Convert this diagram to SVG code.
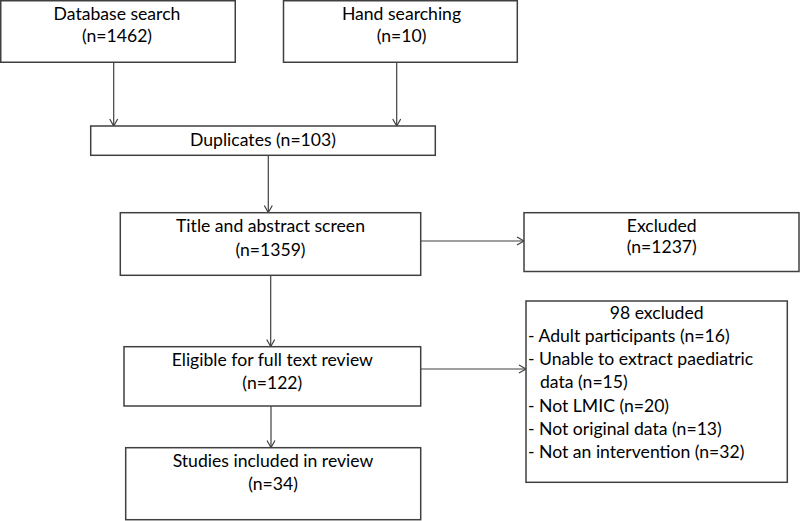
<svg xmlns="http://www.w3.org/2000/svg" width="800" height="521" viewBox="0 0 800 521">
<defs>
<style>
.box{fill:#fff;stroke:#404040;stroke-width:1.5}
.t{font-family:Lato,"Open Sans","Liberation Sans",sans-serif;font-size:17.6px;fill:#000}
.c{text-anchor:middle}
.ln{stroke:#404040;stroke-width:1.2;fill:none}
</style>
<marker id="ah" markerWidth="10" markerHeight="10" refX="8" refY="5" orient="auto" markerUnits="userSpaceOnUse">
<path d="M1,1 L8,5 L1,9" fill="none" stroke="#404040" stroke-width="1.2"/>
</marker>
</defs>
<rect width="800" height="521" fill="#fff"/>
<g id="connectors">
<line class="ln" x1="113.7" y1="62.5" x2="113.7" y2="126" marker-end="url(#ah)"/>
<line class="ln" x1="396.7" y1="62.5" x2="396.7" y2="126" marker-end="url(#ah)"/>
<line class="ln" x1="268.3" y1="155.5" x2="268.3" y2="212.5" marker-end="url(#ah)"/>
<line class="ln" x1="420.7" y1="241" x2="524" y2="241" marker-end="url(#ah)"/>
<line class="ln" x1="270.7" y1="275.5" x2="270.7" y2="346.5" marker-end="url(#ah)"/>
<line class="ln" x1="420.7" y1="369" x2="526" y2="369" marker-end="url(#ah)"/>
<line class="ln" x1="271" y1="406" x2="271" y2="447.5" marker-end="url(#ah)"/>
</g>
<g id="database">
<rect class="box" x="0.75" y="0.75" width="234.5" height="61.5"/>
<text class="t c" x="117" y="19.5">Database search</text>
<text class="t c" x="117" y="42">(n=1462)</text>
</g>
<g id="hand">
<rect class="box" x="283.5" y="0.75" width="233.8" height="61.5"/>
<text class="t c" x="401.5" y="19.5">Hand searching</text>
<text class="t c" x="401.5" y="42">(n=10)</text>
</g>
<g id="duplicates">
<rect class="box" x="90.7" y="126" width="344.6" height="29.3"/>
<text class="t c" x="263" y="145.5">Duplicates (n=103)</text>
</g>
<g id="title">
<rect class="box" x="120.3" y="212.7" width="300.4" height="62.6"/>
<text class="t c" x="270.5" y="232.3">Title and abstract screen</text>
<text class="t c" x="270.5" y="255.7">(n=1359)</text>
</g>
<g id="excluded">
<rect class="box" x="524" y="212.7" width="275" height="58.8"/>
<text class="t c" x="661.7" y="231.5">Excluded</text>
<text class="t c" x="661.7" y="253.3">(n=1237)</text>
</g>
<g id="eligible">
<rect class="box" x="124" y="346.7" width="296.7" height="59.3"/>
<text class="t c" x="272.3" y="366">Eligible for full text review</text>
<text class="t c" x="272.3" y="389.3">(n=122)</text>
</g>
<g id="excluded98">
<rect class="box" x="526" y="301" width="261.3" height="181.3"/>
<text class="t c" x="656.7" y="319.3">98 excluded</text>
<text class="t" x="528" y="341.7">-  Adult participants (n=16)</text>
<text class="t" x="528" y="365">- Unable to extract paediatric</text>
<text class="t" x="540" y="388.3">data (n=15)</text>
<text class="t" x="528" y="411.7">- Not LMIC (n=20)</text>
<text class="t" x="528" y="435">- Not original data (n=13)</text>
<text class="t" x="528" y="458.3">- Not an intervention (n=32)</text>
</g>
<g id="studies">
<rect class="box" x="125.7" y="447.7" width="295" height="72"/>
<text class="t c" x="273" y="466.7">Studies included in review</text>
<text class="t c" x="273" y="490">(n=34)</text>
</g>
</svg>
